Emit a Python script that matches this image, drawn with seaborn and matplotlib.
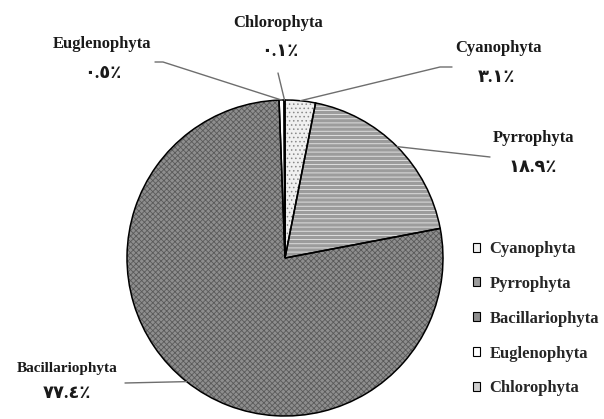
import matplotlib
matplotlib.use('Agg')
import matplotlib.pyplot as plt
from matplotlib.patches import Patch
import numpy as np
import seaborn as sns

# phytoplankton groups and their share of the total (%)
groups = ['Cyanophyta', 'Pyrrophyta', 'Bacillariophyta', 'Euglenophyta', 'Chlorophyta']
shares = [3.1, 18.9, 77.4, 0.5, 0.1]

# grey fills + hatch (scan of a b/w print)
face_colors = ['#f0f0f0', '#9c9c9c', '#8e8e8e', '#ffffff', '#cfcfcf']
hatch_colors = ['#8a8a8a', '#e8e8e8', '#5a5a5a', '#ffffff', '#7a7a7a']
hatches = ['....', '----', 'xxxxxx', '', 'xxxx']

# label layout in pixels (from the top-left corner)
name_xy = [(498, 48), (534, 138), (67, 368), (102, 44), (278, 23)]
pct_xy = [(497, 77), (533, 168), (67, 393), (103, 73), (280, 52)]
line_end = [(452, 67), (490, 157), (125, 383), (155, 62), (278, 73)]
line_elbow = [(440, 67), None, None, (163, 62), None]
name_size = [12, 12, 11, 12, 12]

W, H = 604, 419
CX, CY, R = 285, 258, 158

ARABIC = str.maketrans('0123456789', '٠١٢٣٤٥٦٧٨٩')


def fy(y):
    return H - y


def arabic_pct(v):
    return f'{v:.1f}'.translate(ARABIC) + '٪'


sns.set_theme(style='white')
plt.rcParams['font.family'] = ['Liberation Serif', 'DejaVu Sans']
plt.rcParams['hatch.linewidth'] = 0.6

fig = plt.figure(figsize=(W / 100, H / 100), dpi=100)
ax = fig.add_axes([0, 0, 1, 1])

# pass 1: fills and hatching (hatch colour follows edgecolor, edge itself not drawn)
fills, _ = ax.pie(shares, center=(CX, fy(CY)), radius=R, startangle=90,
                  counterclock=False, colors=face_colors,
                  wedgeprops=dict(linewidth=0), frame=True)
for w, hc, h in zip(fills, hatch_colors, hatches):
    w.set_edgecolor(hc)
    w.set_hatch(h)

# pass 2: black outlines
outlines, _ = ax.pie(shares, center=(CX, fy(CY)), radius=R, startangle=90,
                     counterclock=False, colors=['none'] * len(shares),
                     wedgeprops=dict(edgecolor='black', linewidth=1.1), frame=True)

# leader lines + labels
for i, w in enumerate(outlines):
    mid = np.deg2rad((w.theta1 + w.theta2) / 2)
    px, py = CX + R * np.cos(mid), fy(CY) + R * np.sin(mid)
    xs, ys = [px], [py]
    if line_elbow[i] is not None:
        xs.append(line_elbow[i][0])
        ys.append(fy(line_elbow[i][1]))
    xs.append(line_end[i][0])
    ys.append(fy(line_end[i][1]))
    ax.plot(xs, ys, color='#6e6e6e', linewidth=1.0)

    ax.text(name_xy[i][0], fy(name_xy[i][1]), groups[i], ha='center', va='center',
            fontsize=name_size[i], fontweight='bold', color='#1a1a1a')
    ax.text(pct_xy[i][0], fy(pct_xy[i][1]), arabic_pct(shares[i]), ha='center',
            va='center', fontsize=13, fontweight='bold', color='#1a1a1a')

ax.set_xlim(0, W)
ax.set_ylim(0, H)
ax.set_aspect('equal')
ax.axis('off')

handles = [Patch(facecolor=fc, edgecolor='black', linewidth=0.8) for fc in face_colors]
ax.legend(handles, groups, loc='upper left',
          bbox_to_anchor=((477 - 4) / W, (H - 241) / H), bbox_transform=fig.transFigure,
          frameon=False, prop=dict(weight='bold', size=12),
          handlelength=0.45, handleheight=0.45, handletextpad=0.55,
          labelspacing=1.13, borderpad=0, borderaxespad=0)

fig.savefig('out.png', dpi=100, facecolor='white')
